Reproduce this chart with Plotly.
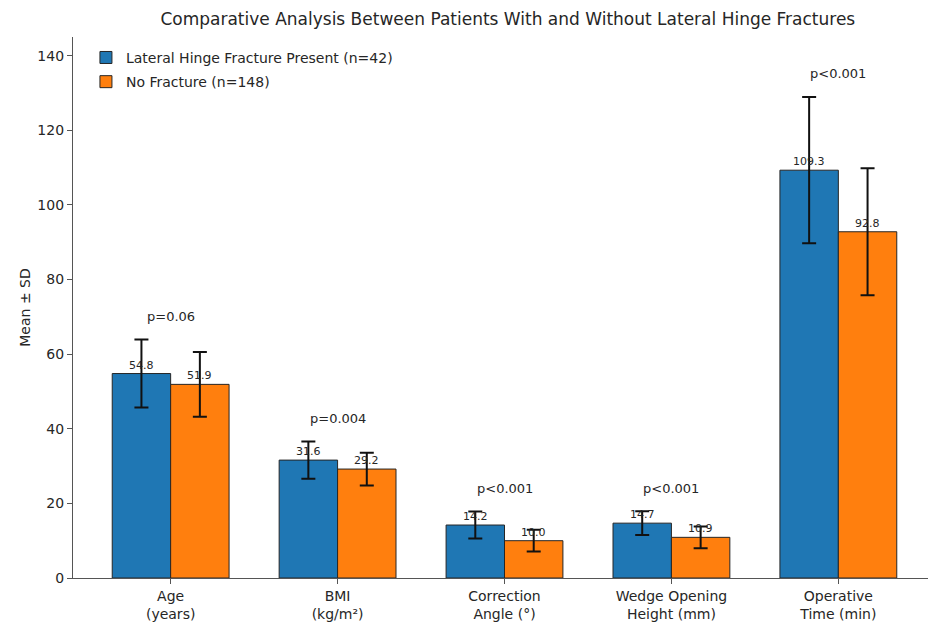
import plotly.graph_objects as go

categories = ["Age<br>(years)", "BMI<br>(kg/m²)", "Correction<br>Angle (°)",
              "Wedge Opening<br>Height (mm)", "Operative<br>Time (min)"]
fracture_mean = [54.8, 31.6, 14.2, 14.7, 109.3]
fracture_sd = [9.1, 5.0, 3.6, 3.2, 19.6]
nofracture_mean = [51.9, 29.2, 10.0, 10.9, 92.8]
nofracture_sd = [8.7, 4.4, 2.9, 2.9, 17.0]
p_values = ["p=0.06", "p=0.004", "p<0.001", "p<0.001", "p<0.001"]
series_names = ["Lateral Hinge Fracture Present (n=42)", "No Fracture (n=148)"]
y_ticks = [0, 20, 40, 60, 80, 100, 120, 140]

x = list(range(len(categories)))
FONT = "DejaVu Sans"
TXT = "#262626"

fig = go.Figure()
fig.add_trace(go.Bar(
    x=x, y=fracture_mean, name=series_names[0], legendgroup="a",
    marker=dict(color="#1f77b4", line=dict(color="#262626", width=1)),
    error_y=dict(type="data", array=fracture_sd, color="#111111", thickness=2, width=7),
))
fig.add_trace(go.Bar(
    x=x, y=nofracture_mean, name=series_names[1], legendgroup="b",
    marker=dict(color="#ff7f0e", line=dict(color="#262626", width=1)),
    error_y=dict(type="data", array=nofracture_sd, color="#111111", thickness=2, width=7),
))

half = 0.175
annotations = []
for i in x:
    annotations.append(dict(x=i - half, y=fracture_mean[i], text=f"{fracture_mean[i]:.1f}",
                            xref="x", yref="y", showarrow=False, yanchor="bottom",
                            font=dict(size=11, color=TXT, family=FONT)))
    annotations.append(dict(x=i + half, y=nofracture_mean[i], text=f"{nofracture_mean[i]:.1f}",
                            xref="x", yref="y", showarrow=False, yanchor="bottom",
                            font=dict(size=11, color=TXT, family=FONT)))
    top = max(fracture_mean[i] + fracture_sd[i], nofracture_mean[i] + nofracture_sd[i])
    annotations.append(dict(x=i, y=top + 5, text=p_values[i], xref="x", yref="y",
                            showarrow=False, yanchor="bottom", yshift=-5,
                            font=dict(size=13, color=TXT, family=FONT)))

fig.update_layout(
    width=936, height=636,
    margin=dict(l=65, r=8, t=29, b=66, autoexpand=False),
    plot_bgcolor="white", paper_bgcolor="white",
    barmode="group", bargap=0.3, bargroupgap=0,
    font=dict(family=FONT, size=13, color=TXT),
    title=dict(text="Comparative Analysis Between Patients With and Without Lateral Hinge Fractures",
               x=0.534, xanchor="center", y=0.983, yanchor="middle",
               font=dict(size=17, color=TXT, family=FONT)),
    legend=dict(x=0.015, y=0.991, xanchor="left", yanchor="top",
                bgcolor="rgba(255,255,255,0.8)", font=dict(size=14, color=TXT, family=FONT),
                tracegroupgap=3),
    annotations=annotations,
    showlegend=True,
)
fig.update_xaxes(
    tickmode="array", tickvals=x, ticktext=categories,
    range=[-0.585, 4.585], automargin=False,
    showline=True, linecolor="#555555", linewidth=1.2,
    ticks="outside", ticklen=5, tickcolor="#555555",
    showgrid=False, zeroline=False,
    tickfont=dict(size=14, color=TXT, family=FONT),
)
fig.update_yaxes(
    range=[0, 145], tickmode="array", tickvals=y_ticks, automargin=False,
    showline=True, linecolor="#555555", linewidth=1.2,
    ticks="outside", ticklen=5, tickcolor="#555555",
    showgrid=False, zeroline=False,
    tickfont=dict(size=14, color=TXT, family=FONT),
    title=dict(text="Mean ± SD", font=dict(size=14, color=TXT, family=FONT), standoff=3),
)

fig.write_html("out.html")
